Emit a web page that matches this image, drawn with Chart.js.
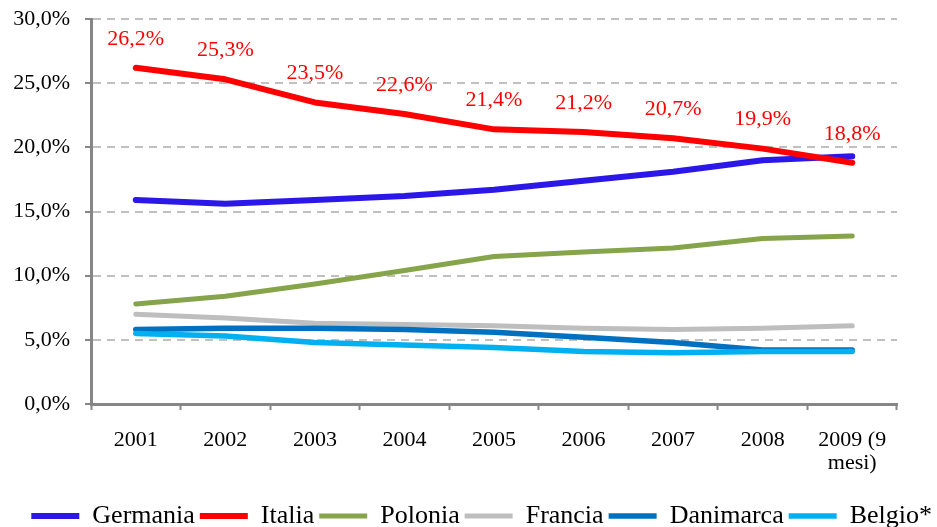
<!DOCTYPE html>
<html>
<head>
<meta charset="utf-8">
<script src="https://cdn.jsdelivr.net/npm/chart.js@4/dist/chart.umd.min.js"></script>
<style>
  html, body { margin: 0; padding: 0; background: #fff; }
  #wrap { width: 937px; height: 527px; }
</style>
</head>
<body>
<div id="wrap"><canvas id="chart" width="937" height="527"></canvas></div>
<script>
const years = ["2001", "2002", "2003", "2004", "2005", "2006", "2007", "2008", ["2009 (9", "mesi)"]];

const germania = [15.9, 15.6, 15.9, 16.2, 16.7, 17.4, 18.1, 19.0, 19.3];
const italia = [26.2, 25.3, 23.5, 22.6, 21.4, 21.2, 20.7, 19.9, 18.8];
const polonia = [7.8, 8.4, 9.35, 10.4, 11.5, 11.85, 12.15, 12.9, 13.1];
const francia = [7.0, 6.7, 6.3, 6.2, 6.1, 5.9, 5.8, 5.9, 6.1];
const danimarca = [5.8, 5.9, 5.9, 5.8, 5.6, 5.2, 4.8, 4.2, 4.2];
const belgio = [5.5, 5.3, 4.8, 4.6, 4.4, 4.1, 4.0, 4.1, 4.1];

const seriesDefs = [
  { label: "Germania", data: germania, color: "#2B18E8", width: 6 },
  { label: "Italia", data: italia, color: "#FF0000", width: 6 },
  { label: "Polonia", data: polonia, color: "#86A44A", width: 5 },
  { label: "Francia", data: francia, color: "#BEBEBE", width: 5 },
  { label: "Danimarca", data: danimarca, color: "#0070C0", width: 5.5 },
  { label: "Belgio*", data: belgio, color: "#00B0F0", width: 5.5 },
];

const serif = "'Liberation Serif', 'Times New Roman', serif";

function pct(v) {
  return v.toFixed(1).replace(".", ",") + "%";
}

// red value labels above the Italia line
const italiaLabels = {
  id: "italiaLabels",
  afterDatasetsDraw(chart) {
    const meta = chart.getDatasetMeta(1);
    const ctx = chart.ctx;
    ctx.save();
    ctx.fillStyle = "#FF0000";
    ctx.font = "22px " + serif;
    ctx.textAlign = "center";
    ctx.textBaseline = "middle";
    meta.data.forEach((pt, i) => {
      ctx.fillText(pct(italia[i]), pt.x, pt.y - 29);
    });
    ctx.restore();
  },
};

new Chart(document.getElementById("chart"), {
  type: "line",
  data: {
    labels: years,
    datasets: seriesDefs.map((s, i) => ({
      label: s.label,
      data: s.data,
      borderColor: s.color,
      backgroundColor: s.color,
      borderWidth: s.width,
      borderCapStyle: "round",
      borderJoinStyle: "round",
      pointRadius: 0,
      tension: 0,
      order: seriesDefs.length - i,
    })),
  },
  options: {
    responsive: false,
    animation: false,
    layout: { padding: { left: 0, right: 0, top: 19, bottom: -12 } },
    plugins: {
      tooltip: { enabled: false },
      legend: {
        position: "bottom",
        align: "end",
        labels: {
          usePointStyle: true,
          pointStyle: "line",
          pointStyleWidth: 48,
          boxHeight: 5,
          padding: 5,
          color: "#000",
          font: { family: serif, size: 26 },
          sort: (a, b) => a.datasetIndex - b.datasetIndex,
        },
      },
    },
    scales: {
      x: {
        offset: true,
        grid: {
          offset: true,
          drawOnChartArea: false,
          drawTicks: true,
          tickLength: 6,
          tickColor: "#868686",
          tickWidth: 2,
        },
        border: { color: "#868686", width: 3 },
        ticks: {
          color: "#000",
          font: { family: serif, size: 22, lineHeight: 1.05 },
          padding: 19,
          maxRotation: 0,
          autoSkip: false,
        },
        afterFit(scale) { scale.height = 94; },
      },
      y: {
        min: 0,
        max: 30,
        grid: {
          color: "#C0C0C0",
          lineWidth: 2,
          drawTicks: true,
          tickLength: 6,
          tickColor: "#868686",
          tickWidth: 2,
        },
        border: { color: "#868686", width: 3, dash: [8, 6] },
        ticks: {
          stepSize: 5,
          color: "#000",
          font: { family: serif, size: 22 },
          padding: 15,
          callback: (v) => pct(v),
        },
        afterFit(scale) {
          scale.width = 91;
          scale.paddingTop = 0;
          scale.paddingBottom = 0;
        },
      },
      spacer: {
        position: "right",
        display: true,
        grid: { display: false },
        border: { display: false },
        ticks: { display: false },
        afterFit(scale) { scale.width = 40; },
      },
    },
  },
  plugins: [italiaLabels],
});
</script>
</body>
</html>
